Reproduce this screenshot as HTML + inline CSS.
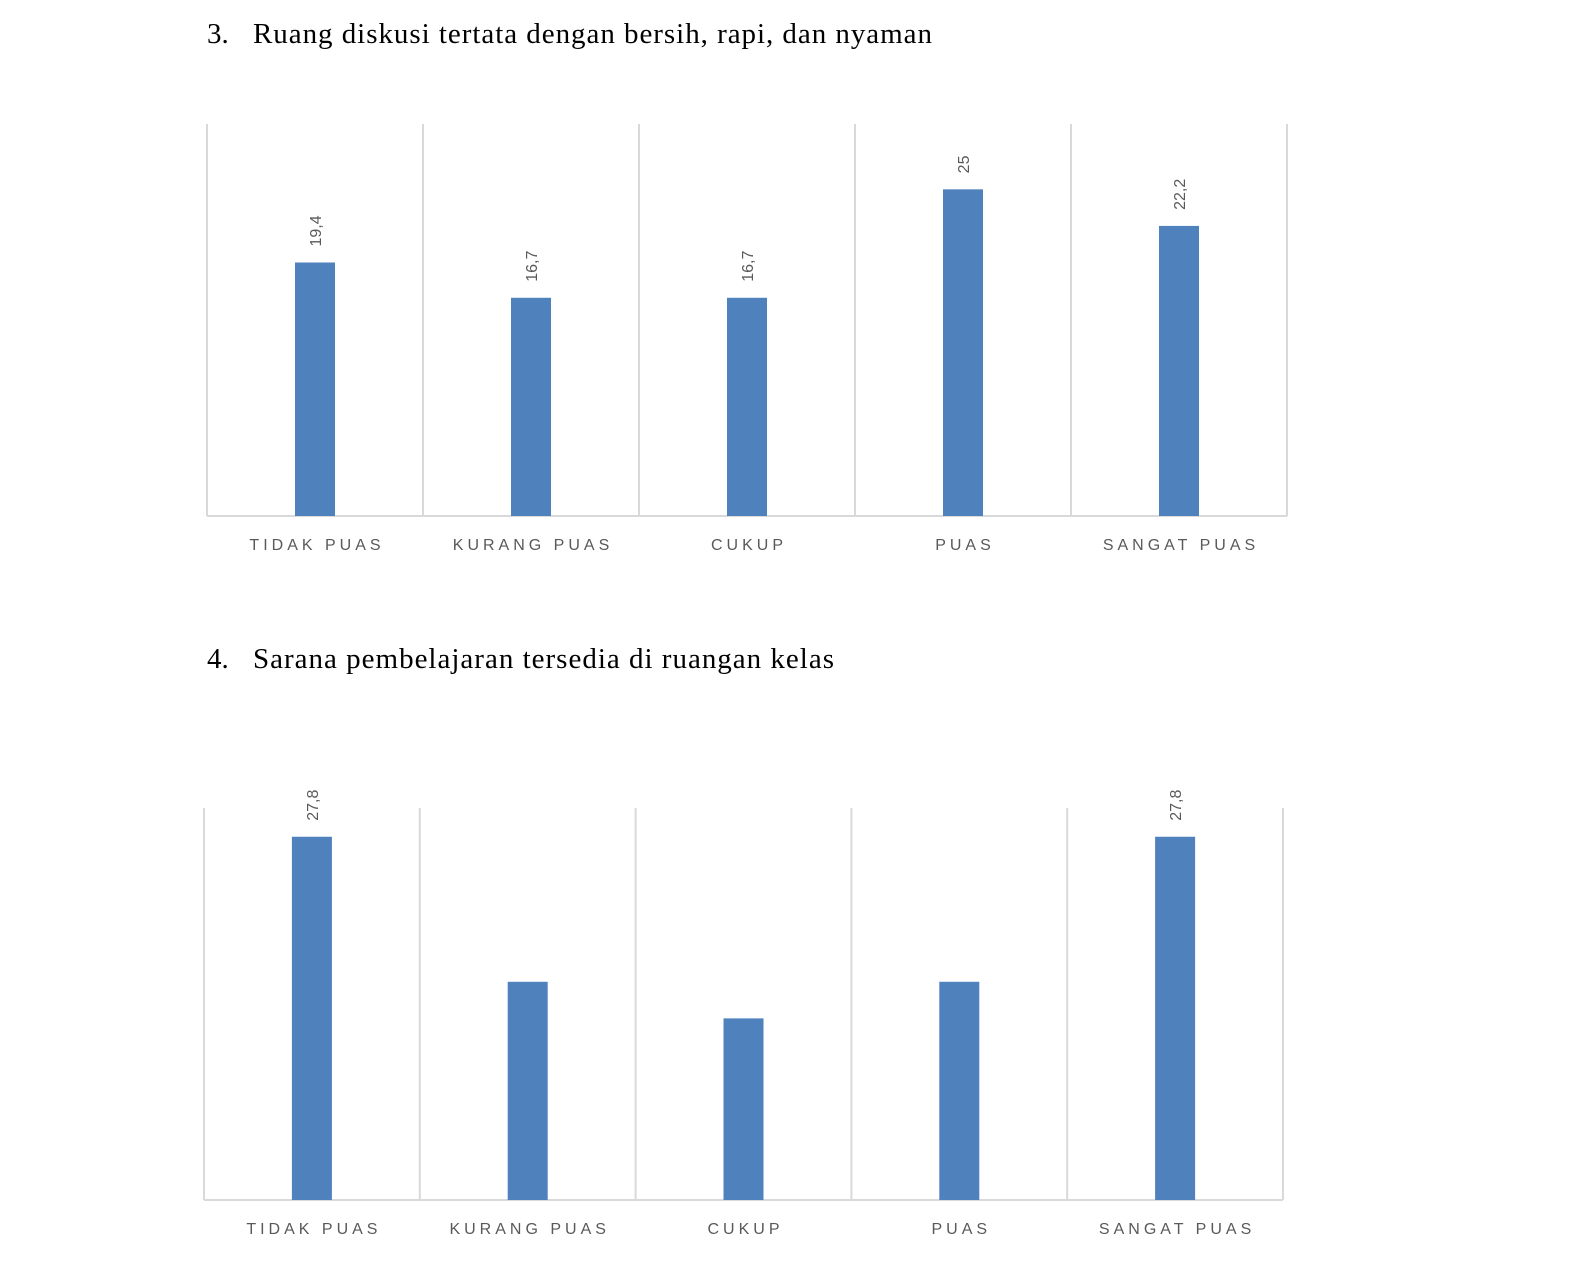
<!DOCTYPE html>
<html><head><meta charset="utf-8"><style>
body{margin:0;background:#fff;width:1587px;height:1287px;overflow:hidden;font-family:"Liberation Serif",serif}
</style></head><body>
<svg id="svg" width="1587" height="1287" style="position:absolute;left:0;top:0">
<text x="207" y="43" font-family="Liberation Serif, serif" font-size="29" fill="#000">3.</text>
<text x="253" y="43" font-family="Liberation Serif, serif" font-size="29" fill="#000" textLength="679" lengthAdjust="spacing">Ruang diskusi tertata dengan bersih, rapi, dan nyaman</text>
<text x="207" y="668" font-family="Liberation Serif, serif" font-size="29" fill="#000">4.</text>
<text x="253" y="668" font-family="Liberation Serif, serif" font-size="29" fill="#000" textLength="581" lengthAdjust="spacing">Sarana pembelajaran tersedia di ruangan kelas</text>
</svg>
<script>
const categories=["TIDAK PUAS","KURANG PUAS","CUKUP","PUAS","SANGAT PUAS"];
const values1=[19.4,16.7,16.7,25,22.2];
const labels1=["19,4","16,7","16,7","25","22,2"];
const values2=[27.8,16.7,13.9,16.7,27.8];
const labels2=["27,8","","","","27,8"];
const yMax=30;
const NS="http://www.w3.org/2000/svg";
const svg=document.getElementById('svg');
function el(t,a,p){const e=document.createElementNS(NS,t);for(const k in a)e.setAttribute(k,a[k]);(p||svg).appendChild(e);return e;}
function chart(name,x0,y0,w,h,vals,labs){
  const g=el('g',{});
  
  
  const cw=w/categories.length;
  const y=v=>y0+h-v/yMax*h;
  for(let i=0;i<=categories.length;i++){
    const gl=el('line',{x1:x0+i*cw,x2:x0+i*cw,y1:y0,y2:y0+h,stroke:'#d9d9d9','stroke-width':2},g);
    
    
  }
  const ax=el('line',{x1:x0,x2:x0+w,y1:y0+h,y2:y0+h,stroke:'#d9d9d9','stroke-width':2},g);
  
  
  vals.forEach((v,i)=>{
    const cx=x0+cw*(i+0.5);
    const b=el('rect',{x:cx-20,y:y(v),width:40,height:y(0)-y(v),fill:'#4f81bd'},g);
    
    
    if(labs[i]){
      const t=el('text',{x:0,y:0,transform:`translate(${cx+6},${y(v)-16}) rotate(-90)`,'font-family':'Liberation Sans, sans-serif','font-size':16,fill:'#595959'},g);
      t.textContent=labs[i];
      
      
    }
    const c=el('text',{x:cx+2,y:y0+h+34,'text-anchor':'middle','font-family':'Liberation Sans, sans-serif','font-size':16,fill:'#595959','letter-spacing':4},g);
    c.textContent=categories[i];
    
    
  });
}
chart('chart-3',207,124,1080,392,values1,labels1);
chart('chart-4',204,808,1079,392,values2,labels2);
</script>
</body></html>
